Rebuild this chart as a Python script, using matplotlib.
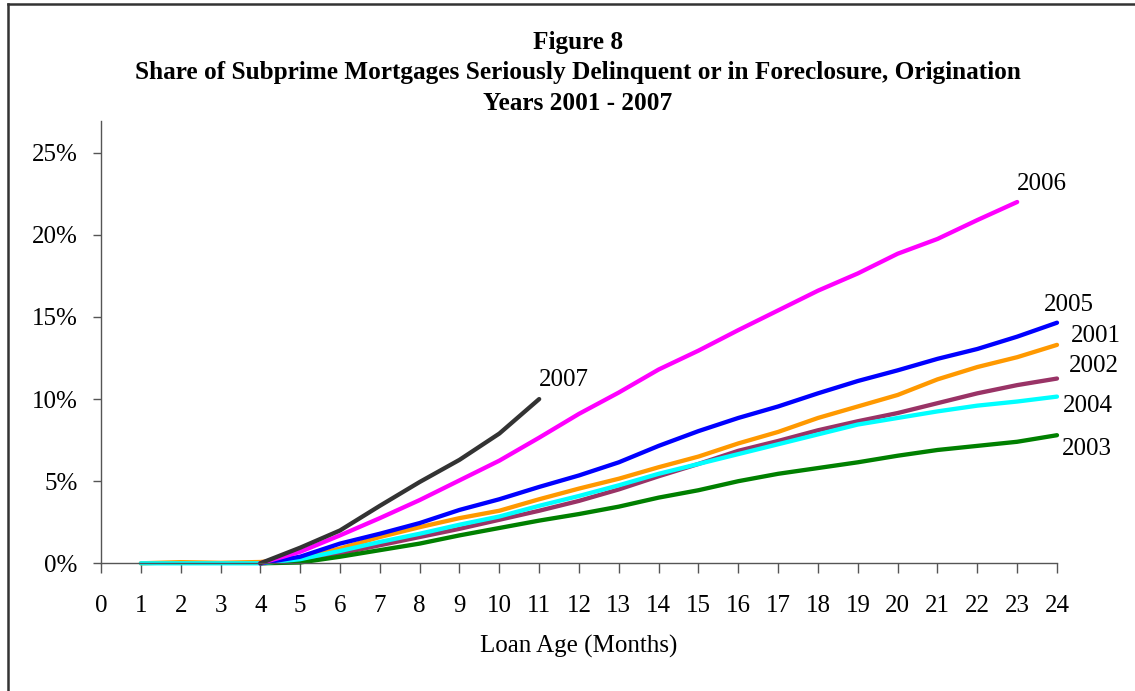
import numpy as np
import matplotlib
matplotlib.use("Agg")
import matplotlib.pyplot as plt
from matplotlib.lines import Line2D
from matplotlib.ticker import FuncFormatter

plt.rcParams["font.family"] = "Liberation Serif"
plt.rcParams["font.size"] = 18

nan = np.nan
months = list(range(1, 25))

y2001 = [0, 0.07, 0.03, 0.08, 0.3, 0.9, 1.6, 2.2, 2.75, 3.2, 3.9, 4.55,
         5.15, 5.85, 6.5, 7.3, 8.0, 8.85, 9.55, 10.25, 11.2, 11.95, 12.55, 13.3]
y2002 = [nan, nan, nan, 0, 0.15, 0.6, 1.1, 1.6, 2.1, 2.65, 3.2, 3.8,
         4.5, 5.3, 6.05, 6.85, 7.45, 8.1, 8.65, 9.15, 9.75, 10.35, 10.85, 11.25]
y2003 = [nan, nan, nan, 0, 0.05, 0.4, 0.8, 1.2, 1.7, 2.15, 2.6, 3.0,
         3.45, 4.0, 4.45, 5.0, 5.45, 5.8, 6.15, 6.55, 6.9, 7.15, 7.4, 7.8]
y2004 = [0, 0, 0, 0, 0.25, 0.75, 1.3, 1.8, 2.35, 2.85, 3.5, 4.1,
         4.75, 5.45, 6.05, 6.65, 7.25, 7.85, 8.45, 8.85, 9.25, 9.6, 9.85, 10.15]
y2005 = [nan, nan, nan, 0, 0.4, 1.2, 1.8, 2.45, 3.25, 3.9, 4.65, 5.35,
         6.15, 7.15, 8.05, 8.85, 9.55, 10.35, 11.1, 11.75, 12.45, 13.05, 13.8, 14.65]
y2006 = [nan, nan, nan, 0, 0.7, 1.7, 2.75, 3.85, 5.05, 6.25, 7.65, 9.1,
         10.4, 11.8, 12.95, 14.2, 15.4, 16.6, 17.65, 18.85, 19.75, 20.9, 22.0, nan]
y2007 = [nan, nan, nan, 0, 0.95, 2.0, 3.5, 4.95, 6.3, 7.9, 10.0, nan,
         nan, nan, nan, nan, nan, nan, nan, nan, nan, nan, nan, nan]

series = [
    ("2001", y2001, "#FF9900", (24.36, 13.87)),
    ("2002", y2002, "#993366", (24.31, 12.0)),
    ("2003", y2003, "#008000", (24.11, 6.94)),
    ("2004", y2004, "#00FFFF", (24.16, 9.56)),
    ("2005", y2005, "#0000FF", (23.66, 15.7)),
    ("2006", y2006, "#FF00FF", (23.0, 23.1)),
    ("2007", y2007, "#333333", (11.0, 11.14)),
]

fig = plt.figure(figsize=(11.35, 6.91), dpi=100)
ax = fig.add_axes([101 / 1135, 1 - 563.3 / 691, 956 / 1135, 442.6 / 691])

for name, vals, color, (lx, ly) in series:
    ax.plot(months, vals, color=color, lw=3.1, solid_capstyle="round",
            solid_joinstyle="round", clip_on=False)
    ax.text(lx, ly, name, ha="left", va="center", fontsize=18, clip_on=False)

ax.set_xlim(0, 24)
ax.set_ylim(0, 26.95)
ax.set_xticks(range(0, 25))
ax.set_yticks([0, 5, 10, 15, 20, 25])
ax.yaxis.set_major_formatter(FuncFormatter(lambda v, p: f"{v:.0f}%"))

for side in ["top", "right"]:
    ax.spines[side].set_visible(False)
for side in ["left", "bottom"]:
    ax.spines[side].set_color("#555555")
    ax.spines[side].set_linewidth(1.0)

ax.tick_params(axis="x", direction="out", length=7, width=1, color="#555555", pad=16)
ax.tick_params(axis="y", direction="out", length=6, width=1, color="#555555", pad=11)

ax.set_xlabel("Loan Age (Months)", fontsize=18, va="center")
ax.xaxis.set_label_coords(0.5, -0.187)

title_lines = ["Figure 8",
               "Share of Subprime Mortgages Seriously Delinquent or in Foreclosure, Origination",
               "Years 2001 - 2007"]
for line, ypx in zip(title_lines, [42, 73, 103]):
    fig.text(0.509, 1 - ypx / 691, line, ha="center", va="center",
             fontsize=18.2, fontweight="bold")

# page frame on the top and left
fig.add_artist(Line2D([8 / 1135, 1], [1 - 4 / 691, 1 - 4 / 691], color="#333333", lw=1.8))
fig.add_artist(Line2D([8 / 1135, 8 / 1135], [0, 1 - 4 / 691], color="#333333", lw=1.8))

plt.savefig("out.png", dpi=100)
